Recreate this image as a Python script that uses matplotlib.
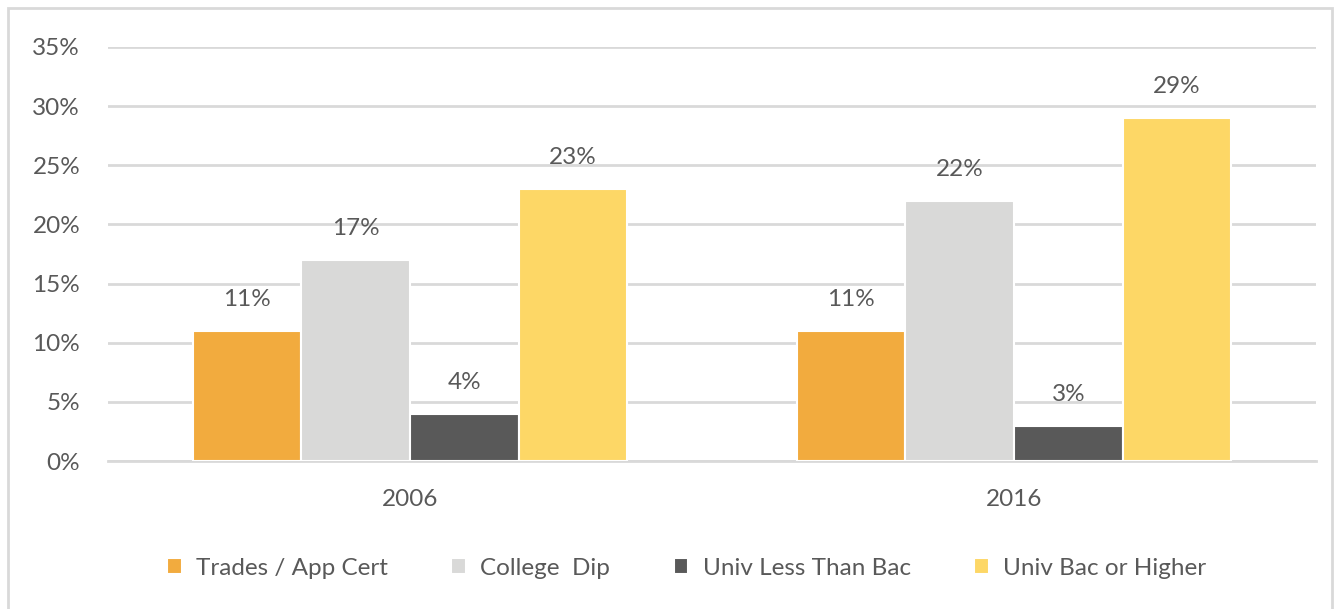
import matplotlib.pyplot as plt
import numpy as np
from matplotlib.patches import Rectangle

years = ["2006", "2016"]
series = ["Trades / App Cert", "College  Dip", "Univ Less Than Bac", "Univ Bac or Higher"]
trades = [11, 11]
college = [17, 22]
univ_less = [4, 3]
univ_bac = [23, 29]
colors = ["#F2AB3E", "#D9D9D8", "#595959", "#FDD766"]

plt.rcParams["font.family"] = ["Lato", "DejaVu Sans"]
txt = "#595959"

fig = plt.figure(figsize=(13.36, 6.09), dpi=100)
ax = fig.add_axes([0.0808, 0.243, 0.9042, 0.68])

# outer chart border
fig.patches.append(Rectangle((8 / 1336, -0.01), 1324 / 1336, 0.997, transform=fig.transFigure,
                             fill=False, edgecolor="#D9D9D9", linewidth=2))

x = np.arange(len(years))
w = 0.18
all_vals = [trades, college, univ_less, univ_bac]
for i, vals in enumerate(all_vals):
    pos = x + (i - 1.5) * w
    bars = ax.bar(pos, vals, width=w, color=colors[i], edgecolor="white", linewidth=1.5,
                  label=series[i], zorder=3)
    for b, v in zip(bars, vals):
        ax.annotate(f"{v}%", (b.get_x() + b.get_width() / 2, v), xytext=(0, 15),
                    textcoords="offset points", ha="center", va="bottom",
                    fontsize=17.5, color=txt)

ax.set_xlim(-0.5, 1.5)
ax.set_ylim(0, 35)
ax.set_yticks(range(0, 36, 5))
ax.set_yticklabels([f"{t}%" for t in range(0, 36, 5)])
ax.set_xticks(x)
ax.set_xticklabels(years)
ax.tick_params(axis="both", length=0, labelsize=17.5, labelcolor=txt)
ax.tick_params(axis="y", pad=20)
ax.tick_params(axis="x", pad=20)
ax.grid(axis="y", color="#D9D9D9", linewidth=2, zorder=0)
for s in ["top", "right", "left"]:
    ax.spines[s].set_visible(False)
ax.spines["bottom"].set_color("#D9D9D9")
ax.spines["bottom"].set_linewidth(2)

fig.legend(loc="center", bbox_to_anchor=(0.514, 0.067), ncol=4, frameon=False,
           fontsize=17.5, labelcolor=txt, handlelength=0.6, handleheight=0.6,
           columnspacing=2.6, handletextpad=0.6)

fig.savefig("out.png", dpi=100)
